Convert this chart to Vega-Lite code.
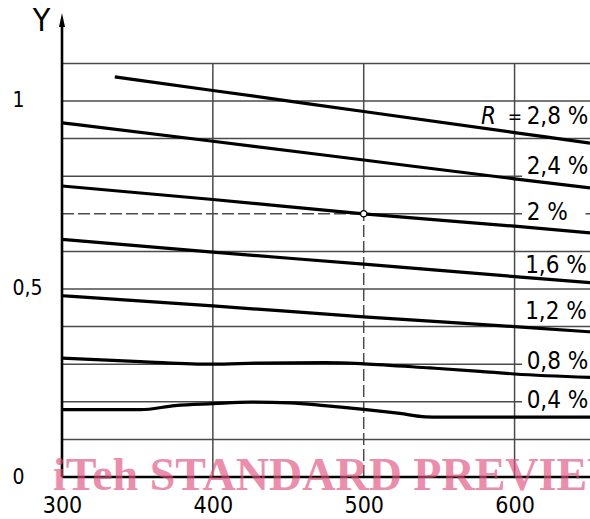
{
  "$schema": "https://vega.github.io/schema/vega-lite/v6.json",
  "width": 528,
  "height": 462,
  "autosize": "none",
  "padding": {"left": 62, "top": 15, "right": 0, "bottom": 42},
  "background": "white",
  "config": {"view": {"stroke": null}, "font": "Liberation Sans Narrow, DejaVu Sans Condensed, sans-serif"},
  "datasets": {
    "curves": [
      {"R": "2.8", "x": 335, "y": 1.064}, {"R": "2.8", "x": 400, "y": 1.028}, {"R": "2.8", "x": 500, "y": 0.972}, {"R": "2.8", "x": 600, "y": 0.916}, {"R": "2.8", "x": 650, "y": 0.888},
      {"R": "2.4", "x": 300, "y": 0.942}, {"R": "2.4", "x": 400, "y": 0.893}, {"R": "2.4", "x": 500, "y": 0.843}, {"R": "2.4", "x": 600, "y": 0.793}, {"R": "2.4", "x": 650, "y": 0.769},
      {"R": "2.0", "x": 300, "y": 0.774}, {"R": "2.0", "x": 400, "y": 0.738}, {"R": "2.0", "x": 500, "y": 0.700}, {"R": "2.0", "x": 600, "y": 0.667}, {"R": "2.0", "x": 650, "y": 0.649},
      {"R": "1.6", "x": 300, "y": 0.632}, {"R": "1.6", "x": 400, "y": 0.598}, {"R": "1.6", "x": 500, "y": 0.566}, {"R": "1.6", "x": 600, "y": 0.533}, {"R": "1.6", "x": 650, "y": 0.517},
      {"R": "1.2", "x": 300, "y": 0.482}, {"R": "1.2", "x": 400, "y": 0.455}, {"R": "1.2", "x": 500, "y": 0.426}, {"R": "1.2", "x": 600, "y": 0.400}, {"R": "1.2", "x": 650, "y": 0.386},
      {"R": "0.8", "x": 300, "y": 0.316}, {"R": "0.8", "x": 352, "y": 0.307}, {"R": "0.8", "x": 400, "y": 0.300}, {"R": "0.8", "x": 431, "y": 0.303}, {"R": "0.8", "x": 474, "y": 0.304}, {"R": "0.8", "x": 500, "y": 0.301}, {"R": "0.8", "x": 544, "y": 0.290}, {"R": "0.8", "x": 577, "y": 0.281}, {"R": "0.8", "x": 600, "y": 0.274}, {"R": "0.8", "x": 650, "y": 0.265},
      {"R": "0.4", "x": 300, "y": 0.179}, {"R": "0.4", "x": 352, "y": 0.179}, {"R": "0.4", "x": 375, "y": 0.190}, {"R": "0.4", "x": 400, "y": 0.195}, {"R": "0.4", "x": 425, "y": 0.199}, {"R": "0.4", "x": 451, "y": 0.197}, {"R": "0.4", "x": 474, "y": 0.190}, {"R": "0.4", "x": 500, "y": 0.180}, {"R": "0.4", "x": 524, "y": 0.169}, {"R": "0.4", "x": 541, "y": 0.160}, {"R": "0.4", "x": 551, "y": 0.159}, {"R": "0.4", "x": 600, "y": 0.159}, {"R": "0.4", "x": 650, "y": 0.159}
    ],
    "hgrid": [
      {"y": 0.1, "x1": 300, "x2": 650}, {"y": 0.2, "x1": 300, "x2": 605}, {"y": 0.3, "x1": 300, "x2": 605},
      {"y": 0.4, "x1": 300, "x2": 650}, {"y": 0.5, "x1": 300, "x2": 650}, {"y": 0.6, "x1": 300, "x2": 650},
      {"y": 0.7, "x1": 500, "x2": 605}, {"y": 0.7, "x1": 647, "x2": 650}, {"y": 0.8, "x1": 300, "x2": 605},
      {"y": 0.9, "x1": 300, "x2": 650}, {"y": 1.0, "x1": 300, "x2": 650}, {"y": 1.1, "x1": 300, "x2": 650}
    ],
    "vgrid": [
      {"x": 400, "y1": 0, "y2": 1.1}, {"x": 600, "y1": 0, "y2": 1.1}, {"x": 500, "y1": 0.7, "y2": 1.1}
    ],
    "dashH": [{"y": 0.7, "x1": 300, "x2": 500}],
    "dashV": [{"x": 500, "y1": 0, "y2": 0.7}],
    "point": [{"x": 500, "y": 0.7}],
    "labels": [
      {"x": 608, "y": 0.957, "text": "2,8 %"},
      {"x": 608, "y": 0.824, "text": "2,4 %"},
      {"x": 608, "y": 0.703, "text": "2 %"},
      {"x": 607, "y": 0.561, "text": "1,6 %"},
      {"x": 607, "y": 0.439, "text": "1,2 %"},
      {"x": 608, "y": 0.307, "text": "0,8 %"},
      {"x": 608, "y": 0.202, "text": "0,4 %"}
    ],
    "rlabel": [{"x": 577.7, "y": 0.957, "text": "R"}],
    "eqlabel": [{"x": 595.5, "y": 0.957, "text": "="}],
    "yaxis": [{"x": 300, "y1": 0, "y2": 1.2}],
    "xaxis": [{"y": 0, "x1": 300, "x2": 650}],
    "arrow": [{"x": 300, "y": 1.2154}],
    "wm": [{"x": 294, "y": -0.035, "text": "iTeh STANDARD PREVIEW"}]
  },
  "layer": [
    {
      "data": {"name": "hgrid"},
      "mark": {"type": "rule", "color": "#4a4a4a", "strokeWidth": 1.5},
      "encoding": {
        "x": {"field": "x1", "type": "quantitative", "scale": {"domain": [300, 650], "nice": false, "zero": false},
          "axis": {"values": [300, 400, 500, 600], "grid": false, "domain": false, "ticks": false, "labelPadding": 17, "labelFontSize": 23, "labelColor": "black", "labelFont": "Liberation Sans Narrow, DejaVu Sans Condensed, sans-serif", "labelFlush": false, "labelOverlap": false, "title": null}},
        "x2": {"field": "x2"},
        "y": {"field": "y", "type": "quantitative", "scale": {"domain": [0, 1.2287], "nice": false, "zero": false},
          "axis": {"values": [0, 0.5, 1], "grid": false, "domain": false, "ticks": false, "labelAlign": "left", "labelPadding": 50, "labelFontSize": 21, "labelColor": "black", "labelFont": "Liberation Sans Narrow, DejaVu Sans Condensed, sans-serif", "labelExpr": "datum.value == 0.5 ? '0,5' : (datum.value == 1 ? '1' : '0')", "labelFlush": false,
            "title": "Y", "titleAngle": 0, "titleX": -21, "titleY": 5, "titleAlign": "center", "titleBaseline": "middle", "titleFontSize": 32, "titleFontWeight": "normal", "titleColor": "black", "titleFont": "Liberation Sans Narrow, DejaVu Sans Condensed, sans-serif"}}
      }
    },
    {
      "data": {"name": "vgrid"},
      "mark": {"type": "rule", "color": "#4a4a4a", "strokeWidth": 1.5},
      "encoding": {
        "x": {"field": "x", "type": "quantitative"},
        "y": {"field": "y1", "type": "quantitative"},
        "y2": {"field": "y2"}
      }
    },
    {
      "data": {"name": "dashH"},
      "mark": {"type": "rule", "color": "#4a4a4a", "strokeWidth": 1.5, "strokeDash": [12, 4]},
      "encoding": {
        "x": {"field": "x1", "type": "quantitative"},
        "x2": {"field": "x2"},
        "y": {"field": "y", "type": "quantitative"}
      }
    },
    {
      "data": {"name": "dashV"},
      "mark": {"type": "rule", "color": "#4a4a4a", "strokeWidth": 1.5, "strokeDash": [12, 4]},
      "encoding": {
        "x": {"field": "x", "type": "quantitative"},
        "y": {"field": "y1", "type": "quantitative"},
        "y2": {"field": "y2"}
      }
    },
    {
      "data": {"name": "curves"},
      "mark": {"type": "line", "color": "black", "strokeWidth": 3.2, "interpolate": "monotone", "clip": true},
      "encoding": {
        "x": {"field": "x", "type": "quantitative"},
        "y": {"field": "y", "type": "quantitative"},
        "detail": {"field": "R"}
      }
    },
    {
      "data": {"name": "point"},
      "mark": {"type": "point", "shape": "circle", "filled": true, "fill": "white", "stroke": "black", "strokeWidth": 1.3, "size": 40, "opacity": 1},
      "encoding": {
        "x": {"field": "x", "type": "quantitative"},
        "y": {"field": "y", "type": "quantitative"}
      }
    },
    {
      "data": {"name": "yaxis"},
      "mark": {"type": "rule", "color": "black", "strokeWidth": 2.6},
      "encoding": {
        "x": {"field": "x", "type": "quantitative"},
        "y": {"field": "y1", "type": "quantitative"},
        "y2": {"field": "y2"}
      }
    },
    {
      "data": {"name": "xaxis"},
      "mark": {"type": "rule", "color": "black", "strokeWidth": 2.6},
      "encoding": {
        "x": {"field": "x1", "type": "quantitative"},
        "x2": {"field": "x2"},
        "y": {"field": "y", "type": "quantitative"}
      }
    },
    {
      "data": {"name": "arrow"},
      "mark": {"type": "point", "shape": "M0,-1L0.43,1L-0.43,1Z", "filled": true, "color": "black", "size": 196, "opacity": 1},
      "encoding": {
        "x": {"field": "x", "type": "quantitative"},
        "y": {"field": "y", "type": "quantitative"}
      }
    },
    {
      "data": {"name": "labels"},
      "mark": {"type": "text", "align": "left", "baseline": "middle", "fontSize": 24, "color": "black"},
      "encoding": {
        "x": {"field": "x", "type": "quantitative"},
        "y": {"field": "y", "type": "quantitative"},
        "text": {"field": "text"}
      }
    },
    {
      "data": {"name": "rlabel"},
      "mark": {"type": "text", "align": "left", "baseline": "middle", "fontSize": 24, "fontStyle": "italic", "color": "black"},
      "encoding": {
        "x": {"field": "x", "type": "quantitative"},
        "y": {"field": "y", "type": "quantitative"},
        "text": {"field": "text"}
      }
    },
    {
      "data": {"name": "eqlabel"},
      "mark": {"type": "text", "align": "left", "baseline": "middle", "fontSize": 19, "color": "black"},
      "encoding": {
        "x": {"field": "x", "type": "quantitative"},
        "y": {"field": "y", "type": "quantitative"},
        "text": {"field": "text"}
      }
    },
    {
      "data": {"name": "wm"},
      "mark": {"type": "text", "align": "left", "baseline": "alphabetic", "font": "Liberation Serif", "fontWeight": "bold", "fontSize": 46, "color": "#e0527f", "opacity": 0.65},
      "encoding": {
        "x": {"field": "x", "type": "quantitative"},
        "y": {"field": "y", "type": "quantitative"},
        "text": {"field": "text"}
      }
    }
  ]
}
